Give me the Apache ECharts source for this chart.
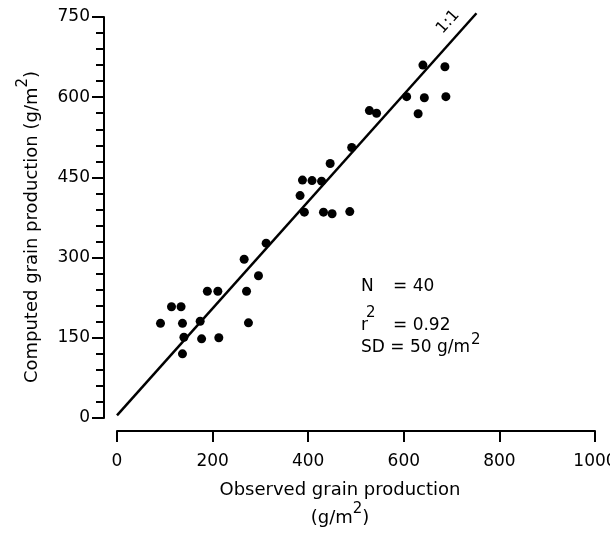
<!DOCTYPE html>
<html><head><meta charset="utf-8">
<script src="https://cdn.jsdelivr.net/npm/echarts@6/dist/echarts.min.js"></script>
<style>html,body{margin:0;padding:0;background:#fff}#c{width:610px;height:551px}</style>
</head><body><div id="c"></div>
<script>
// Observed (x) vs computed (y) grain production, g/m2
const observed = [91,114,134,137,174,140,137,177,213,189,211,266,271,275,296,312,
                  491,446,388,408,428,383,392,432,450,487,
                  640,686,606,643,688,630,528,543];
const computed = [177,208,208,177,181,151,120,148,150,237,237,297,237,178,266,327,
                  506,476,445,444,443,416,385,385,382,386,
                  660,657,601,599,601,569,575,570];
const oneToOneX = [0, 752];
const oneToOneY = [5, 757];
const xTicks = [0, 200, 400, 600, 800, 1000];
const yTicks = [0, 150, 300, 450, 600, 750];
const statNames = ['N', 'r', 'SD = 50 g/m'];
const statValues = ['= 40', '= 0.92', ''];

const FONT = 'DejaVu Sans';
const ctx = document.createElement('canvas').getContext('2d');
function tw(t, s) { ctx.font = s + 'px "' + FONT + '"'; return ctx.measureText(t).width; }

const points = observed.map((v, i) => [v, computed[i]]);
const lineData = oneToOneX.map((v, i) => [v, oneToOneY[i]]);

function txt(x, y, text, size, align, extra) {
  return Object.assign({
    type: 'text', x: x, y: y,
    style: { text: text, fill: '#000', font: size + 'px "' + FONT + '"',
             align: align || 'left', verticalAlign: 'middle' }
  }, extra || {});
}

// y axis name (rotated with superscript)
const yMain = 'Computed grain production (g/m';
const yW1 = tw(yMain, 18), yW2 = tw('2', 15), yW3 = tw(')', 18);
const yW = yW1 + yW2 + yW3;
const yName = {
  type: 'group', x: 32, y: 227, rotation: Math.PI / 2,
  children: [
    txt(-yW / 2, 0, yMain, 18),
    txt(-yW / 2 + yW1, -9, '2', 15),
    txt(-yW / 2 + yW1 + yW2, 0, ')', 18)
  ]
};
// x axis name
const xUnitW1 = tw('(g/m', 18), xUnitW2 = tw('2', 15), xUnitW3 = tw(')', 18);
const xUW = xUnitW1 + xUnitW2 + xUnitW3;
const xName = {
  type: 'group', x: 340, y: 0,
  children: [
    txt(0, 490, 'Observed grain production', 18, 'center'),
    txt(-xUW / 2, 518, '(g/m', 18),
    txt(-xUW / 2 + xUnitW1, 509, '2', 15),
    txt(-xUW / 2 + xUnitW1 + xUnitW2, 518, ')', 18)
  ]
};
const stats = {
  type: 'group', x: 0, y: 0,
  children: [
    txt(361, 287, statNames[0], 17),
    txt(393, 287, statValues[0], 17),
    txt(361, 326, statNames[1], 17),
    txt(366, 313, '2', 15),
    txt(393, 326, statValues[1], 17),
    txt(361, 348, statNames[2], 17),
    txt(361 + tw(statNames[2], 17) + 1, 340, '2', 15)
  ]
};
const oneLabel = txt(448, 22, '1:1', 16, 'center', { rotation: 48 * Math.PI / 180 });

const axisCommon = {
  type: 'value',
  axisLine: { show: true, onZero: false, lineStyle: { color: '#000', width: 2 } },
  axisTick: { show: true, lineStyle: { color: '#000', width: 2 } },
  axisLabel: { color: '#000', fontFamily: FONT, fontSize: 17 },
  splitLine: { show: false }
};

const chart = echarts.init(document.getElementById('c'), null, { renderer: 'canvas' });
chart.setOption({
  animation: false,
  backgroundColor: '#fff',
  grid: { left: 117, right: 15, top: 17, bottom: 133, containLabel: false, outerBoundsMode: 'none' },
  xAxis: Object.assign({}, axisCommon, {
    min: xTicks[0], max: xTicks[xTicks.length - 1], interval: xTicks[1] - xTicks[0],
    offset: 13,
    axisTick: { show: true, length: 11, lineStyle: { color: '#000', width: 2 } },
    axisLabel: { color: '#000', fontFamily: FONT, fontSize: 17, margin: 22,
                 formatter: v => String(v) }
  }),
  yAxis: Object.assign({}, axisCommon, {
    min: yTicks[0], max: yTicks[yTicks.length - 1], interval: yTicks[1] - yTicks[0],
    offset: 13,
    axisTick: { show: true, length: 12, lineStyle: { color: '#000', width: 2 } },
    minorTick: { show: true, splitNumber: 5, length: 8, lineStyle: { color: '#000', width: 2 } },
    minorSplitLine: { show: false },
    axisLabel: { color: '#000', fontFamily: FONT, fontSize: 17, margin: 14,
                 formatter: v => String(v) }
  }),
  series: [
    { type: 'line', data: lineData, symbol: 'none', clip: false,
      lineStyle: { color: '#000', width: 2.5 }, silent: true },
    { type: 'scatter', data: points, symbol: 'circle', symbolSize: 9,
      itemStyle: { color: '#000', opacity: 1 } }
  ],
  graphic: [yName, xName, stats, oneLabel]
});
</script></body></html>
